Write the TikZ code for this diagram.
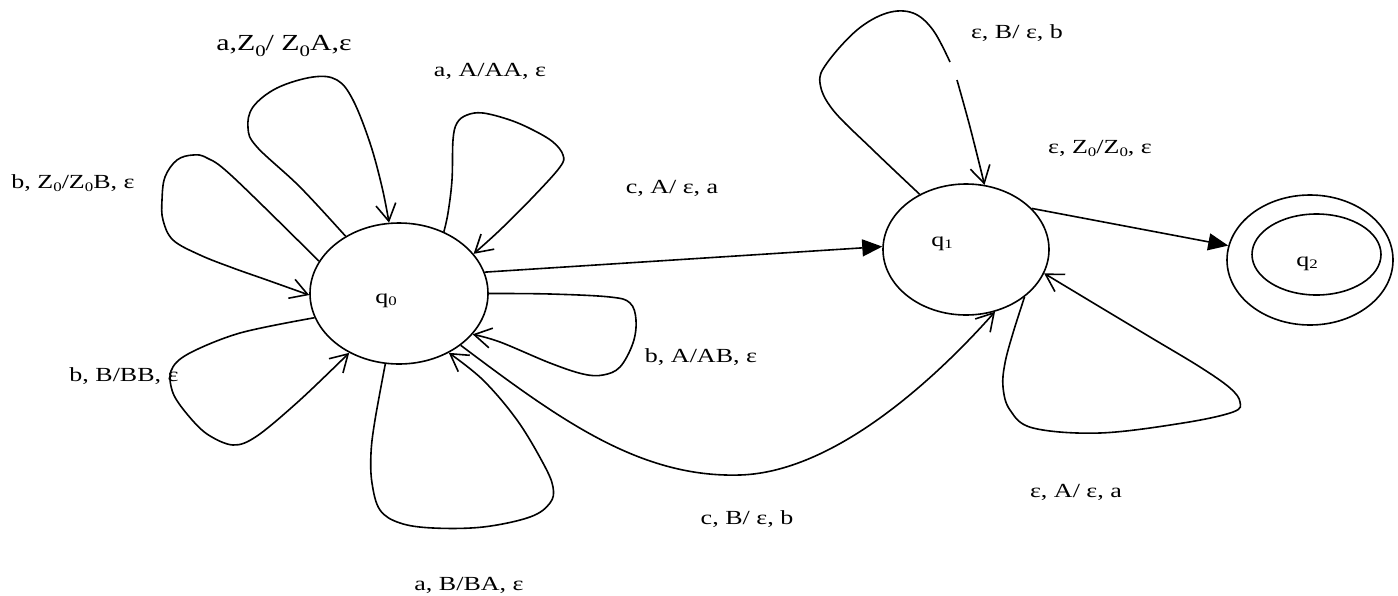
\documentclass[tikz,border=0pt]{standalone}
\usepackage{fontspec}
\setmainfont{Liberation Serif}
\usepackage{graphicx}
\usetikzlibrary{arrows.meta,shapes.geometric}
\newcommand{\st}[1]{\scalebox{1.3}[1]{#1}}
\newcommand{\zs}{\raisebox{-0.18em}{\fontsize{13}{13}\selectfont 0}}
\newcommand{\zb}{\raisebox{-0.3em}{\fontsize{16}{16}\selectfont 0}}
\newcommand{\qs}[1]{q\raisebox{-0.1em}{\fontsize{13}{13}\selectfont #1}}
\begin{document}
\begin{tikzpicture}[x=1pt,y=-1pt,line width=1.6pt,
  state/.style={draw,ellipse,inner sep=0pt},
  lbl/.style={inner sep=0pt,anchor=base,font=\fontsize{20}{24}\selectfont},
  open/.style={-{Straight Barb[length=17pt,width=20pt]}},
  filled/.style={-{Triangle[length=20pt,width=17pt]}}]
\useasboundingbox (0,0) rectangle (1398,595);
% states
\node[state,minimum width=178pt,minimum height=141pt] (q0) at (399,293.5) {};
\node[state,minimum width=166pt,minimum height=131pt] (q1) at (966,249.5) {};
\node[state,minimum width=166pt,minimum height=130pt] (q2) at (1310,260) {};
\node[state,minimum width=129pt,minimum height=81pt] (q2in) at (1316.5,254.5) {};
\node[lbl] (t0) at (386,303) {\st{\qs{0}}};
\node[lbl] (t1) at (942,246) {\st{\qs{1}}};
\node[lbl] (t2) at (1307,266) {\st{\qs{2}}};
% labels
\node[lbl] (la) at (284,50) {\fontsize{23}{26}\selectfont\st{a,Z\zb/ Z\zb A,ε}};
\node[lbl] (lb) at (490,76) {\st{a, A/AA, ε}};
\node[lbl] (lc) at (73,188) {\st{b, Z\zs/Z\zs B, ε}};
\node[lbl] (ld) at (124,381) {\st{b, B/BB, ε}};
\node[lbl] (le) at (701,362) {\st{b, A/AB, ε}};
\node[lbl] (lf) at (469,590) {\st{a, B/BA, ε}};
\node[lbl] (lg) at (672,193) {\st{c, A/ ε, a}};
\node[lbl] (lh) at (747,524) {\st{c, B/ ε, b}};
\node[lbl] (li) at (1017,38) {\st{ε, B/ ε, b}};
\node[lbl] (lj) at (1100,153) {\st{ε, Z\zs/Z\zs, ε}};
\node[lbl] (lk) at (1076,497) {\st{ε, A/ ε, a}};
% transitions between states
\draw[filled] (q0.14) -- (q1.178);
\draw[filled] (q1.32) -- (q2.170);
\draw[open] (q0.320) .. controls (560,420) and (640,478) .. (740,475)
  .. controls (840,472) and (945,368) .. (q1.295);
% loops on q0
\draw[open] plot[smooth,tension=0.6] coordinates {(q0.133) (300,187) (257,147) (248,128) (253,107) (277,88) (313,77) (337,80) (353,100) (370,143) (382,187) (q0.98)};
\draw[open] plot[smooth,tension=0.6] coordinates {(q0.54) (448,213) (452,180) (453,140) (457,123) (467,115) (483,113) (510,120) (533,130) (553,142) (563,155) (560,167) (533,197) (500,230) (q0.28)};
\draw[open] plot[smooth,tension=0.6] coordinates {(q0.158) (233,177) (207,158) (193,155) (177,160) (165,177) (162,200) (163,220) (173,240) (200,255) (233,268) (267,280) (q0.181)};
\draw[open] plot[smooth,tension=0.55] coordinates {(q0.196) (240,333) (188,354) (171,371) (173,393) (187,414) (207,434) (233,445) (257,436) (300,400) (q0.230)};
\draw[open] plot[smooth,tension=0.6] coordinates {(q0.259) (375,420) (371,453) (372,483) (380,510) (400,523) (433,528) (483,527) (530,517) (550,503) (553,487) (543,463) (517,420) (483,380) (q0.310)};
\draw[open] plot[smooth,tension=0.6] coordinates {(q0.0) (550,294) (610,297) (630,303) (636,320) (633,343) (620,367) (603,375) (583,374) (550,363) (500,342) (q0.331)};
% loops on q1
\coordinate (ga) at (950,62);
\coordinate (gb) at (957,80);
\draw plot[smooth,tension=0.6] coordinates {(q1.130) (873,150) (833,110) (820,83) (827,63) (857,30) (887,13) (913,13) (933,30) (ga)};
\draw[open] plot[smooth,tension=0.6] coordinates {(gb) (970,127) (q1.74)};
\draw[open] plot[smooth,tension=0.6] coordinates {(q1.321) (1013,333) (1005,363) (1003,387) (1010,410) (1033,428) (1100,433) (1183,423) (1233,412) (1240,402) (1230,388) (1200,367) (1150,337) (1100,307) (q1.343)};
\end{tikzpicture}
\end{document}
